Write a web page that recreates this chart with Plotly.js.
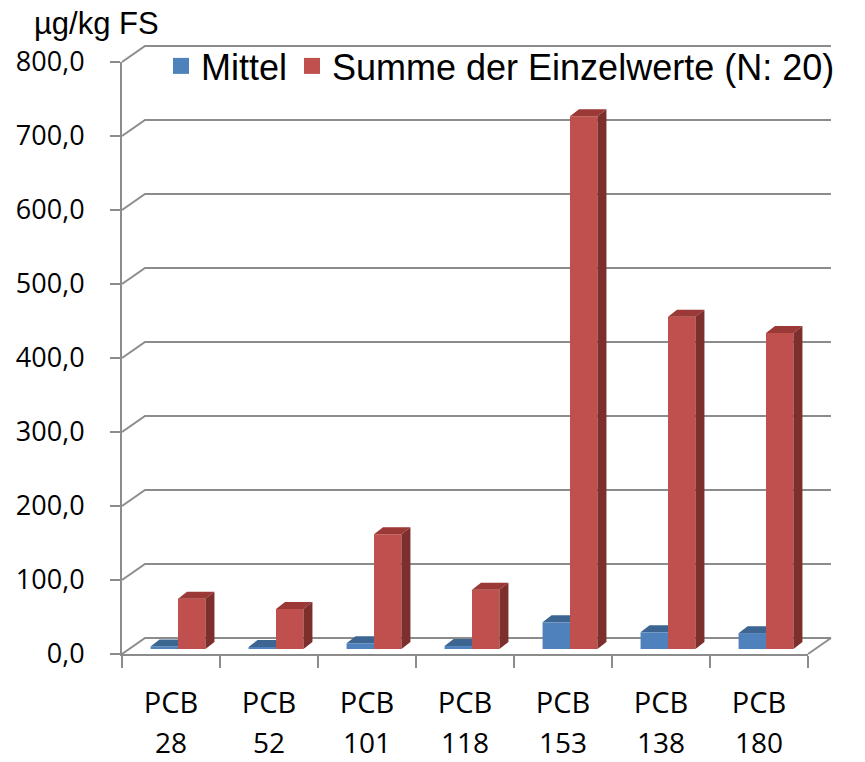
<!DOCTYPE html>
<html>
<head>
<meta charset="utf-8">
<script src="https://cdn.plot.ly/plotly-3.0.1.min.js"></script>
<style>html,body{margin:0;padding:0;background:#fff;}#chart{width:865px;height:762px;}</style>
</head>
<body>
<div id="chart"></div>
<script>
// ---- data ----
const categories = ['PCB 28', 'PCB 52', 'PCB 101', 'PCB 118', 'PCB 153', 'PCB 138', 'PCB 180'];
const mittel = [3.4, 2.7, 7.7, 4.0, 36.0, 22.5, 21.4];
const summe = [68, 54, 155, 80, 720, 449, 427];
const yTicks = [0, 100, 200, 300, 400, 500, 600, 700, 800];
const seriesNames = ['Mittel', 'Summe der Einzelwerte (N: 20)'];
const seriesColors = ['#4F81BD', '#C0504D'];
const unitLabel = 'µg/kg FS';

// ---- geometry (pixels) ----
const W = 865, H = 762;
const L = 122, T = 46, B = 108;
const DX = 23, DY = 16;          // depth of the back wall
const frontW = 686, frontH = 592;
const plotW = frontW + DX, plotH = frontH + DY;
const R = W - L - plotW;
const BX = 7, BY = 5;            // bar plane offset from the front
const barW = 0.28;
const dpx = 9, dpy = 7;          // bar depth in pixels
const yRange = [0, 800];
const catPx = frontW / categories.length;
const unitPx = frontH / (yRange[1] - yRange[0]);
const ddx = dpx / catPx, ddy = dpy / unitPx;

const idx = categories.map((c, i) => i);
const grid = '#8c8c8c';
const font = 'Open Sans, sans-serif';
const arial = 'Liberation Sans, Arial, sans-serif';

function faces(vals, x0off, x1off, kind) {
  const xs = [], ys = [];
  vals.forEach((v, i) => {
    const x0 = i + x0off, x1 = i + x1off;
    let px, py;
    if (kind === 'side') {
      px = [x1, x1 + ddx, x1 + ddx, x1];
      py = [0, ddy, v + ddy, v];
    } else if (kind === 'top') {
      px = [x0, x0 + ddx, x1 + ddx, x1];
      py = [v, v + ddy, v + ddy, v];
    } else { // top face, part hidden behind the neighbouring bar left out
      px = [x0, x0 + ddx, x1, x1];
      py = [v, v + ddy, v + ddy, v];
    }
    xs.push(...px, px[0], null);
    ys.push(...py, py[0], null);
  });
  return {xs, ys};
}

const blueTop = faces(mittel, -barW, 0, 'topclip');
const redTop = faces(summe, 0, barW, 'top');
const redSide = faces(summe, 0, barW, 'side');

const traces = [
  // legend entries (front plane subplot)
  {type: 'scatter', mode: 'markers', name: seriesNames[0], x: [null], y: [null], xaxis: 'x', yaxis: 'y',
   marker: {symbol: 'square', size: 16, color: seriesColors[0]}, hoverinfo: 'skip'},
  {type: 'scatter', mode: 'markers', name: seriesNames[1], x: [null], y: [null], xaxis: 'x', yaxis: 'y',
   marker: {symbol: 'square', size: 16, color: seriesColors[1]}, hoverinfo: 'skip'},
  {type: 'bar', name: seriesNames[0], x: idx, y: mittel, xaxis: 'x2', yaxis: 'y2', showlegend: false,
   width: barW, offset: -barW, marker: {color: seriesColors[0], line: {width: 0}}},
  {type: 'bar', name: seriesNames[1], x: idx, y: summe, xaxis: 'x2', yaxis: 'y2', showlegend: false,
   width: barW, offset: 0, marker: {color: seriesColors[1], line: {width: 0}}},
  {type: 'scatter', mode: 'lines', x: blueTop.xs, y: blueTop.ys, xaxis: 'x2', yaxis: 'y2',
   fill: 'toself', fillcolor: '#3C6592', line: {width: 0}, showlegend: false, hoverinfo: 'skip'},
  {type: 'scatter', mode: 'lines', x: redTop.xs, y: redTop.ys, xaxis: 'x2', yaxis: 'y2',
   fill: 'toself', fillcolor: '#9A3936', line: {width: 0}, showlegend: false, hoverinfo: 'skip'},
  {type: 'scatter', mode: 'lines', x: redSide.xs, y: redSide.ys, xaxis: 'x2', yaxis: 'y2',
   fill: 'toself', fillcolor: '#7C2F2D', line: {width: 0}, showlegend: false, hoverinfo: 'skip'},
  // carriers for the label axes
  {type: 'scatter', mode: 'markers', x: [null], y: [null], xaxis: 'x3', yaxis: 'y', showlegend: false, hoverinfo: 'skip'},
  {type: 'scatter', mode: 'markers', x: [null], y: [null], xaxis: 'x4', yaxis: 'y', showlegend: false, hoverinfo: 'skip'}
];

const boundaries = idx.concat([categories.length]).map(i => i - 0.5);
const xr = [-0.5, categories.length - 0.5];
const frontDomX = [0, frontW / plotW];
const frontDomY = [0, frontH / plotH];

// back wall: gridlines anchored to the y axis domain (not clipped)
const shapes = [];
yTicks.forEach(v => {
  shapes.push({type: 'path', xref: 'paper', yref: 'y domain', xsizemode: 'pixel', ysizemode: 'pixel',
    xanchor: 0, yanchor: (v - yRange[0]) / (yRange[1] - yRange[0]),
    path: 'M0,0L' + DX + ',' + DY + 'L' + plotW + ',' + DY,
    line: {color: grid, width: 2}, layer: 'below'});
});
shapes.push({type: 'path', xref: 'x domain', yref: 'y domain', xsizemode: 'pixel', ysizemode: 'pixel',
  xanchor: 1, yanchor: 0, path: 'M0,0L' + DX + ',' + DY,
  line: {color: grid, width: 2}, layer: 'below'});

const layout = {
  width: W, height: H,
  margin: {l: L, r: R, t: T, b: B, pad: 0},
  paper_bgcolor: '#fff', plot_bgcolor: 'rgba(0,0,0,0)',
  separators: ',.',
  barmode: 'overlay',
  showlegend: true,
  legend: {orientation: 'h', x: (161 - L) / plotW, xanchor: 'left', y: (H - B - 66) / plotH, yanchor: 'middle',
    font: {family: arial, size: 36, color: '#000'}, itemsizing: 'trace',
    bgcolor: 'rgba(0,0,0,0)', borderwidth: 0, traceorder: 'normal'},
  xaxis: {domain: frontDomX, range: xr, anchor: 'y', showgrid: false, zeroline: false,
    showline: true, linecolor: grid, linewidth: 2,
    tickmode: 'array', tickvals: boundaries, ticktext: boundaries.map(() => ''),
    ticks: 'outside', ticklen: 12, tickwidth: 2, tickcolor: grid, fixedrange: true},
  xaxis3: {overlaying: 'x', anchor: 'y', side: 'bottom', range: xr, showgrid: false, zeroline: false,
    showline: false, ticks: '', tickmode: 'array', tickvals: idx,
    ticktext: categories.map(c => c.split(' ')[0]),
    ticklabelstandoff: 29, tickfont: {family: font, size: 29, color: '#000'}},
  xaxis4: {overlaying: 'x', anchor: 'y', side: 'bottom', range: xr, showgrid: false, zeroline: false,
    showline: false, ticks: '', tickmode: 'array', tickvals: idx,
    ticktext: categories.map(c => c.split(' ')[1]),
    ticklabelstandoff: 70, tickfont: {family: font, size: 28, color: '#000'}},
  yaxis: {domain: frontDomY, range: yRange, anchor: 'x', showgrid: false, zeroline: false,
    showline: true, linecolor: grid, linewidth: 2,
    tickmode: 'array', tickvals: yTicks, tickformat: '.1f',
    ticks: 'outside', ticklen: 10, tickwidth: 2, tickcolor: grid,
    ticklabelstandoff: 20,
    tickfont: {family: font, size: 27, color: '#000'}},
  xaxis2: {domain: [BX / plotW, (frontW + BX) / plotW], range: xr, anchor: 'y2', visible: false},
  yaxis2: {domain: [BY / plotH, (frontH + BY) / plotH], range: yRange, anchor: 'x2', visible: false},
  shapes: shapes,
  annotations: [{text: unitLabel, xref: 'paper', yref: 'paper', x: (32 - L) / plotW, y: (H - B - 23) / plotH,
    xanchor: 'left', yanchor: 'middle', showarrow: false,
    font: {family: arial, size: 31, color: '#000'}}]
};

Plotly.newPlot('chart', traces, layout, {displayModeBar: false, staticPlot: true});
</script>
</body>
</html>
